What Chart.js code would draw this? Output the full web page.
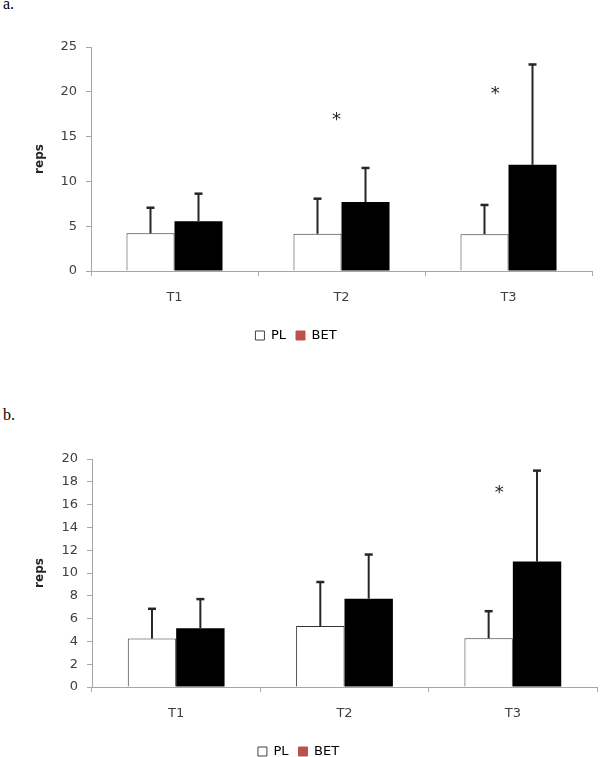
<!DOCTYPE html>
<html>
<head>
<meta charset="utf-8">
<script src="https://cdn.jsdelivr.net/npm/chart.js@4"></script>
<style>
  body { margin: 0; background: #fff; width: 600px; height: 757px; position: relative; overflow: hidden; }
  .panel { position: absolute; left: 0; font: 16px "Liberation Serif", serif; color: #000; }
  .wrap { position: absolute; left: 0; width: 600px; }
</style>
</head>
<body>
<div class="panel" style="left:3px; top:-5px;">a.</div>
<div class="wrap" style="top:0; height:352px;"><canvas id="chartA" width="600" height="352"></canvas></div>
<div class="panel" style="left:3px; top:406px;">b.</div>
<div class="wrap" style="top:400px; height:368px;"><canvas id="chartB" width="600" height="368"></canvas></div>
<script>
// categorias y series
const categories = ['T1', 'T2', 'T3'];
const seriesNames = ['PL', 'BET'];

// panel a
const plA = [4.2, 4.15, 4.1];
const plErrA = [2.86, 3.92, 3.27];
const betA = [5.55, 7.7, 11.85];
const betErrA = [3.08, 3.8, 11.2];
const yTicksA = [0, 5, 10, 15, 20, 25];
const starXA = [0.97, 1.92];
const starYA = [17.3, 20.2];

// panel b
const plB = [4.25, 5.35, 4.27];
const plErrB = [2.61, 3.86, 2.38];
const betB = [5.15, 7.75, 11.0];
const betErrB = [2.56, 3.87, 7.98];
const yTicksB = [0, 2, 4, 6, 8, 10, 12, 14, 16, 18, 20];
const starXB = [1.92];
const starYB = [17.3];

const axisColor = '#a6a6a6';
const textColor = '#404040';
const font = { family: 'DejaVu Sans', size: 13 };

// barras de error (solo hacia arriba)
const errorBarsPlugin = {
    id: 'errorBars',
    afterDatasetsDraw(chart) {
        const ctx = chart.ctx;
        const yScale = chart.scales.y;
        ctx.save();
        ctx.strokeStyle = '#262626';
        chart.data.datasets.forEach((ds, i) => {
            const meta = chart.getDatasetMeta(i);
            meta.data.forEach((bar, j) => {
                const top = yScale.getPixelForValue(ds.data[j] + ds.errors[j]);
                ctx.lineWidth = 2;
                ctx.beginPath();
                ctx.moveTo(bar.x, bar.y);
                ctx.lineTo(bar.x, top);
                ctx.stroke();
                ctx.lineWidth = 2.5;
                ctx.beginPath();
                ctx.moveTo(bar.x - 4, top);
                ctx.lineTo(bar.x + 4, top);
                ctx.stroke();
            });
        });
        ctx.restore();
    }
};

// asteriscos de significancia
const starsPlugin = {
    id: 'stars',
    afterDatasetsDraw(chart, args, opts) {
        if (!opts.x) return;
        const ctx = chart.ctx;
        ctx.save();
        ctx.fillStyle = '#262626';
        ctx.font = '18px "DejaVu Sans"';
        ctx.textAlign = 'center';
        ctx.textBaseline = 'middle';
        opts.x.forEach((xv, k) => {
            const x = chart.scales.x.getPixelForValue(xv);
            const y = chart.scales.y.getPixelForValue(opts.y[k]);
            ctx.fillText('*', x, y + 4);
        });
        ctx.restore();
    }
};

function createChart(id, pl, plErr, bet, betErr, yTicks, starX, starY, pad, axisW) {
    const ctx = document.getElementById(id);
    return new Chart(ctx, {
        type: 'bar',
        data: {
            labels: categories,
            datasets: [{
                label: seriesNames[0],
                data: pl,
                errors: plErr,
                backgroundColor: '#ffffff',
                borderColor: '#333333',
                borderWidth: 1,
                categoryPercentage: 0.575,
                barPercentage: 1.0
            }, {
                label: seriesNames[1],
                data: bet,
                errors: betErr,
                backgroundColor: '#000000',
                borderWidth: 0,
                categoryPercentage: 0.575,
                barPercentage: 1.0
            }]
        },
        options: {
            responsive: false,
            animation: false,
            layout: { padding: pad },
            plugins: {
                legend: {
                    position: 'bottom',
                    labels: {
                        color: textColor,
                        font: font,
                        boxWidth: 9,
                        boxHeight: 9,
                        padding: 10,
                        generateLabels: () => [
                            { text: seriesNames[0], fillStyle: '#ffffff', strokeStyle: '#404040', lineWidth: 1, datasetIndex: 0 },
                            { text: seriesNames[1], fillStyle: '#c0504d', strokeStyle: '#c0504d', lineWidth: 1, datasetIndex: 1 }
                        ]
                    }
                },
                tooltip: { enabled: false },
                stars: { x: starX, y: starY }
            },
            scales: {
                x: {
                    afterFit: (scale) => { scale.height = 48; },
                    ticks: { color: textColor, font: font, padding: 14 },
                    grid: { drawOnChartArea: false, tickLength: 5, color: axisColor, offset: true },
                    border: { color: axisColor }
                },
                y: {
                    min: yTicks[0],
                    max: yTicks[yTicks.length - 1],
                    afterFit: (scale) => { scale.width = axisW; },
                    afterBuildTicks: (scale) => { scale.ticks = yTicks.map(v => ({ value: v })); },
                    ticks: { color: textColor, font: font, padding: 9 },
                    grid: { drawOnChartArea: false, tickLength: 5, color: axisColor },
                    border: { color: axisColor },
                    title: {
                        display: true,
                        text: 'reps',
                        color: '#262626',
                        font: { family: 'DejaVu Sans', size: 12, weight: 'bold' },
                        padding: { top: 33, bottom: 0 }
                    }
                }
            }
        },
        plugins: [errorBarsPlugin, starsPlugin]
    });
}

createChart('chartA', plA, plErrA, betA, betErrA, yTicksA, starXA, starYA,
    { top: 47, right: 8, bottom: 0, left: 0 }, 91);
createChart('chartB', plB, plErrB, betB, betErrB, yTicksB, starXB, starYB,
    { top: 59, right: 3, bottom: 0, left: 0 }, 92);
</script>
</body>
</html>
